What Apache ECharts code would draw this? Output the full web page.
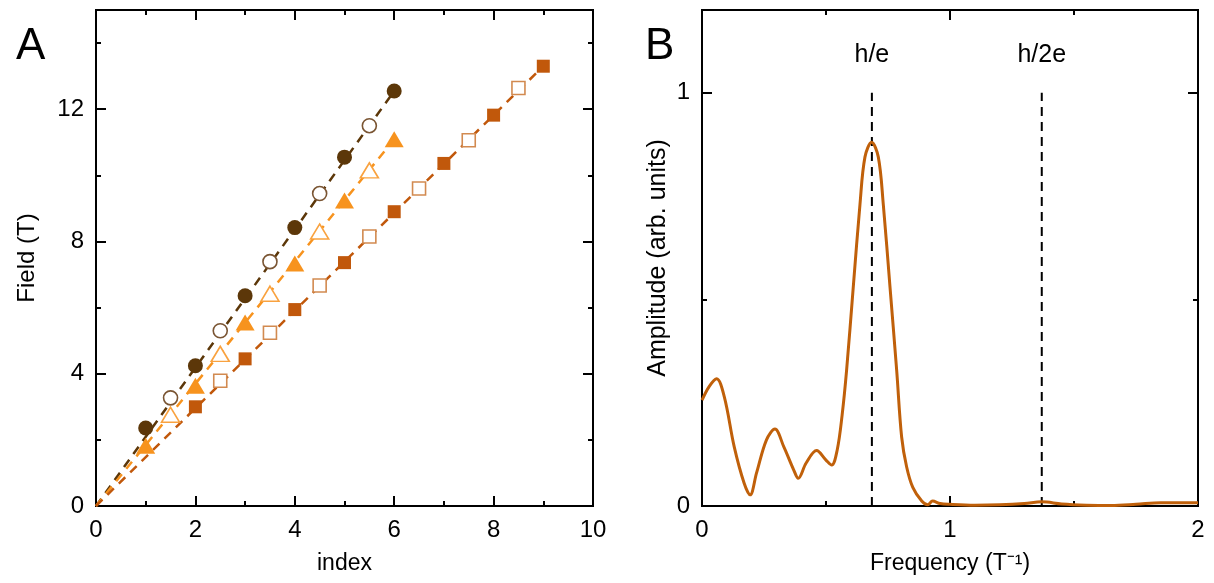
<!DOCTYPE html>
<html><head><meta charset="utf-8">
<script src="https://cdn.jsdelivr.net/npm/echarts@6/dist/echarts.min.js"></script>
<style>html,body{margin:0;padding:0;background:#fff}#c{width:1214px;height:583px}</style>
</head><body><div id="c"></div>
<script>
// ---------- Panel A data ----------
const idxFilled = [1, 2, 3, 4, 5, 6];
const idxOpen = [1.5, 2.5, 3.5, 4.5, 5.5];
const circFilled = [2.36, 4.24, 6.36, 8.42, 10.55, 12.55];
const circOpen = [3.27, 5.30, 7.39, 9.45, 11.50];
const triFilled = [1.82, 3.64, 5.55, 7.33, 9.24, 11.09];
const triOpen = [2.76, 4.60, 6.42, 8.30, 10.15];
const sqIdxFilled = [2, 3, 4, 5, 6, 7, 8, 9];
const sqIdxOpen = [2.5, 3.5, 4.5, 5.5, 6.5, 7.5, 8.5];
const sqFilled = [3.00, 4.45, 5.94, 7.36, 8.90, 10.36, 11.82, 13.30];
const sqOpen = [3.79, 5.24, 6.67, 8.15, 9.60, 11.06, 12.64];
const fitCirc = [[0, 0], [6, 12.55]];
const fitTri = [[0, 0], [6, 11.09]];
const fitSq = [[0, 0], [9, 13.30]];
const aXMajor = [0, 2, 4, 6, 8, 10], aXMinor = [1, 3, 5, 7, 9];
const aYMajor = [0, 4, 8, 12], aYMinor = [2, 6, 10, 14];

// ---------- Panel B data ----------
const freq = [0, 0.03, 0.059, 0.09, 0.13, 0.17, 0.194, 0.22, 0.26, 0.294, 0.33, 0.37, 0.388, 0.42, 0.462, 0.5, 0.523, 0.545, 0.565, 0.583, 0.61, 0.637, 0.657, 0.684, 0.711, 0.731, 0.758, 0.785, 0.805, 0.825, 0.85, 0.886, 0.91, 0.93, 0.96, 1.0, 1.1, 1.2, 1.3, 1.37, 1.45, 1.55, 1.65, 1.75, 1.85, 1.95, 2.0];
const amp = [0.256, 0.29, 0.308, 0.264, 0.143, 0.055, 0.027, 0.08, 0.16, 0.186, 0.143, 0.087, 0.067, 0.104, 0.134, 0.111, 0.099, 0.135, 0.22, 0.328, 0.53, 0.73, 0.844, 0.88, 0.844, 0.73, 0.53, 0.328, 0.167, 0.095, 0.045, 0.012, 0.003, 0.012, 0.006, 0.004, 0.002, 0.003, 0.006, 0.01, 0.005, 0.002, 0.001, 0.004, 0.008, 0.008, 0.008];
const heFreq = 0.685, h2eFreq = 1.37;
const refLabels = ['h/e', 'h/2e'];
const bXMajor = [0, 1, 2], bXMinor = [0.5, 1.5];
const bYMajor = [0, 1], bYMinor = [0.5];

const C_BROWN = '#5C3709', C_ORANGE = '#F7931E', C_DKOR = '#C1580B';
const FONT = '"Liberation Sans", Arial, sans-serif';

// Each panel uses 4 overlapping grids: main (labels + bottom/left majors), top/right majors, bottom/left minors, top/right minors
const panelBoxes = [{ left: 96, top: 10, width: 497, height: 496 }, { left: 702, top: 10, width: 496, height: 496 }];
const grids = [], xAxes = [], yAxes = [];
const tick = (vals, len) => ({ show: true, inside: true, length: len, customValues: vals, lineStyle: { color: '#000', width: 2 } });
function addPanel(p, xr, yr, xMaj, xMin, yMaj, yMin, xName, xGap, xSize, yName, yGap, ySize) {
  const box = panelBoxes[p];
  const specs = [
    { xp: 'bottom', yp: 'left', xv: xMaj, yv: yMaj, len: 10, main: true },
    { xp: 'top', yp: 'right', xv: xMaj, yv: yMaj, len: 10 },
    { xp: 'bottom', yp: 'left', xv: xMin, yv: yMin, len: 5 },
    { xp: 'top', yp: 'right', xv: xMin, yv: yMin, len: 5 }
  ];
  specs.forEach((s, k) => {
    const gi = grids.length;
    grids.push(Object.assign({}, box, k === 0 ? { show: true, borderColor: '#000', borderWidth: 2, backgroundColor: 'transparent' } : {}));
    const lab = (vals) => s.main ? { show: true, customValues: vals, color: '#000', fontSize: 24, fontFamily: FONT } : { show: false };
    xAxes.push({ type: 'value', gridIndex: gi, min: xr[0], max: xr[1], position: s.xp, splitLine: { show: false }, axisLine: { show: false, onZero: false },
      axisTick: tick(s.xv, s.len), axisLabel: Object.assign(lab(s.xv), { margin: 12 }),
      name: s.main ? xName : '', nameLocation: 'middle', nameGap: xGap, nameTextStyle: { fontSize: xSize, fontFamily: FONT, color: '#000' } });
    yAxes.push({ type: 'value', gridIndex: gi, min: yr[0], max: yr[1], position: s.yp, splitLine: { show: false }, axisLine: { show: false, onZero: false },
      axisTick: tick(s.yv, s.len), axisLabel: Object.assign(lab(s.yv), { margin: 12 }),
      name: s.main ? yName : '', nameLocation: 'middle', nameGap: yGap, nameTextStyle: { fontSize: ySize, fontFamily: FONT, color: '#000' } });
  });
}
addPanel(0, [0, 10], [0, 15], aXMajor, aXMinor, aYMajor, aYMinor, 'index', 46, 23, 'Field (T)', 57, 24);
addPanel(1, [0, 2], [0, 1.2], bXMajor, bXMinor, bYMajor, bYMinor, 'Frequency (T\u207B\u00B9)', 46, 23, 'Amplitude (arb. units)', 31, 25);
const B = 4; // axis index of panel B main grid

const zip = (xs, ys) => xs.map((x, i) => [x, ys[i]]);
function pts(xs, ys, sym, size, filled, color, border) {
  return { type: 'scatter', xAxisIndex: 0, yAxisIndex: 0, symbol: sym, symbolSize: size, z: 5,
    itemStyle: filled ? { color: color, opacity: 1 } : { color: '#fff', borderColor: border, borderWidth: 1.6, opacity: 1 },
    data: zip(xs, ys) };
}
function fit(d, color) {
  return { type: 'line', xAxisIndex: 0, yAxisIndex: 0, data: d, symbol: 'none', z: 2,
    lineStyle: { color: color, width: 2.5, type: [9, 7] } };
}
function vline(f, lbl) {
  return [
    { type: 'line', xAxisIndex: B, yAxisIndex: B, data: [[f, 0], [f, 1]], symbol: 'none', z: 1,
      lineStyle: { color: '#000', width: 2, type: [9, 6] } },
    { type: 'scatter', xAxisIndex: B, yAxisIndex: B, data: [[f, 1.09]], symbolSize: 1, itemStyle: { color: 'transparent', opacity: 1 },
      label: { show: true, position: 'inside', formatter: lbl, color: '#000', fontSize: 25, fontFamily: FONT, textBorderWidth: 0 } }
  ];
}

const chart = echarts.init(document.getElementById('c'));
chart.setOption({
  animation: false,
  title: [
    { text: 'A', left: 11, top: 20, textStyle: { fontSize: 44, fontWeight: 'normal', fontFamily: FONT, color: '#000' } },
    { text: 'B', left: 640, top: 20, textStyle: { fontSize: 44, fontWeight: 'normal', fontFamily: FONT, color: '#000' } }
  ],
  grid: grids,
  xAxis: xAxes,
  yAxis: yAxes,
  series: [
    fit(fitCirc, C_BROWN), fit(fitTri, C_ORANGE), fit(fitSq, C_DKOR),
    pts(idxFilled, circFilled, 'circle', 15, true, C_BROWN),
    pts(idxOpen, circOpen, 'circle', 14, false, null, '#7A5533'),
    pts(idxFilled, triFilled, 'triangle', [19, 16], true, C_ORANGE),
    pts(idxOpen, triOpen, 'triangle', [18, 15], false, null, '#F9A23F'),
    pts(sqIdxFilled, sqFilled, 'rect', 13, true, C_DKOR),
    pts(sqIdxOpen, sqOpen, 'rect', 13, false, null, '#D28A50'),
    { type: 'line', xAxisIndex: B, yAxisIndex: B, data: zip(freq, amp), symbol: 'none', smooth: 0.35, z: 3,
      lineStyle: { color: '#C0600A', width: 3 } }
  ].concat(vline(heFreq, refLabels[0]), vline(h2eFreq, refLabels[1]))
});
</script></body></html>
